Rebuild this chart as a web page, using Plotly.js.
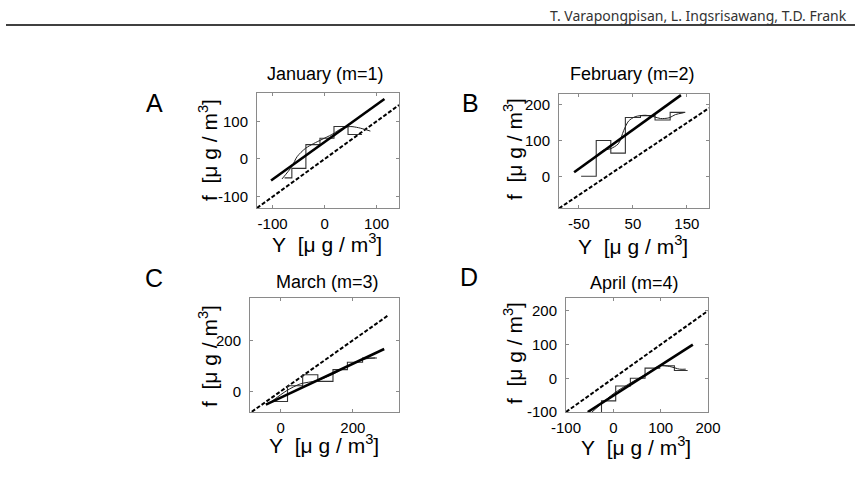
<!DOCTYPE html>
<html>
<head>
<meta charset="utf-8">
<script src="https://cdn.plot.ly/plotly-3.0.1.min.js"></script>
<style>html,body{margin:0;padding:0;background:#fff;}#chart{width:863px;height:485px;}</style>
</head>
<body>
<div id="chart"></div>
<script>
// ---------- Data ----------
const panelTitles = ["January (m=1)", "February (m=2)", "March (m=3)", "April (m=4)"];
const panelLetters = ["A", "B", "C", "D"];
const headerText = "T. Varapongpisan, L. Ingsrisawang, T.D. Frank";

// step (binned) curves: bin edges and bin values
const stepEdgesA = [-77, -63, -36, -9, 18, 45, 72];
const stepValsA  = [-50, -25, 38, 55, 86, 65];
const stepEdgesB = [-46, -18, 9, 36, 64, 91, 119, 147];
const stepValsB  = [2, 101, 66, 165, 170, 158, 179];
const stepEdgesC = [-19, 19, 61, 103, 145, 185, 227, 267];
const stepValsC  = [-40, 22, 65, 39, 85, 114, 131];
const stepEdgesD = [-55, -25, 5, 36, 67, 98, 129, 157];
const stepValsD  = [-120, -67, -23, 0, 30, 37, 23];

// thin smooth curves
const smoothXA = [-82, -63, -53, -37, -21, -5, 14, 33, 49, 65, 88];
const smoothYA = [-53, -20, 6, 28, 41, 52, 65, 81, 86, 83, 74];
const smoothXB = [-20, -5, 8, 23, 33, 42, 54, 73, 89, 101, 117, 129, 144];
const smoothYB = [55, 74, 78, 92, 129, 155, 167, 171, 167, 162, 164, 173, 178];
const smoothXC = [-30, 17, 54, 100, 146, 192, 234, 262];
const smoothYC = [-45, 3, 29, 42, 68, 104, 127, 131];
const smoothXD = [-45, 1, 35, 70, 98, 119, 140, 153];
const smoothYD = [-100, -45, -15, 13, 37, 35, 27, 27];

// thick fitted lines (end points)
const fitXA = [-103, 115]; const fitYA = [-57, 159];
const fitXB = [-59, 139];  const fitYB = [13, 227];
const fitXC = [-41, 287];  const fitYC = [-52, 166];
const fitXD = [-54, 168];  const fitYD = [-100, 100];

// dashed identity lines f = Y (end points)
const diagA = [-130, 143];
const diagB = [-87, 191];
const diagC = [-80, 300];
const diagD = [-100, 200];

// axis ranges and ticks
const xRanges = [[-130, 143], [-87, 191], [-85, 328], [-100, 200]];
const yRanges = [[-130, 175], [-86, 230], [-81, 366], [-100, 238]];
const xTicks = [[-100, 0, 100], [-50, 50, 150], [0, 200], [-100, 0, 100, 200]];
const yTicks = [[-100, 0, 100], [0, 100, 200], [0, 200], [-100, 0, 100, 200]];

// ---------- Layout geometry (pixels) ----------
const W = 863, H = 485;
const boxes = [
  {l: 257, r: 399, t: 93, b: 208},
  {l: 559, r: 709, t: 94, b: 208},
  {l: 250, r: 399, t: 298, b: 412},
  {l: 566, r: 708, t: 298, b: 412}
];
const titlePos = [[325, 74], [632, 74], [327, 282], [634, 283]];
const letterPos = [[154, 103], [471, 103], [154, 278], [469, 277]];
const yTitlePos = [[208, 150], [513, 149], [208, 356], [513, 353]];
const xTitlePos = [[327, 243], [633, 245], [324, 444], [636, 446]];

const FONT = "Liberation Sans, Arial, sans-serif";
const px = x => x / W;
const py = y => 1 - y / H;

function stepXY(edges, vals) {
  return {x: edges.slice(), y: vals.concat([vals[vals.length - 1]])};
}

const steps = [stepXY(stepEdgesA, stepValsA), stepXY(stepEdgesB, stepValsB),
               stepXY(stepEdgesC, stepValsC), stepXY(stepEdgesD, stepValsD)];
const smooths = [[smoothXA, smoothYA], [smoothXB, smoothYB], [smoothXC, smoothYC], [smoothXD, smoothYD]];
const fits = [[fitXA, fitYA], [fitXB, fitYB], [fitXC, fitYC], [fitXD, fitYD]];
const diags = [diagA, diagB, diagC, diagD];

const traces = [];
const layout = {
  width: W, height: H,
  margin: {l: 0, r: 0, t: 0, b: 0},
  paper_bgcolor: "#fff", plot_bgcolor: "#fff",
  showlegend: false,
  font: {family: FONT, color: "#000", size: 15},
  annotations: [],
  shapes: [{type: "line", xref: "paper", yref: "paper", x0: px(6), x1: px(855), y0: py(25), y1: py(25),
            line: {color: "#000", width: 1.3}}]
};

for (let i = 0; i < 4; i++) {
  const n = i + 1;
  const xa = "x" + (n === 1 ? "" : n), ya = "y" + (n === 1 ? "" : n);
  const xk = "xaxis" + (n === 1 ? "" : n), yk = "yaxis" + (n === 1 ? "" : n);
  const b = boxes[i];
  const axCommon = {
    showgrid: false, zeroline: false, showline: true, mirror: "ticks",
    linecolor: "#8a8a8a", linewidth: 1, ticks: "inside", ticklen: 3, tickcolor: "#8a8a8a",
    tickmode: "array", tickfont: {family: FONT, size: 15, color: "#000"},
    fixedrange: true
  };
  layout[xk] = Object.assign({}, axCommon, {
    domain: [px(b.l), px(b.r)], range: xRanges[i], tickvals: xTicks[i],
    ticktext: xTicks[i].map(String), anchor: ya, ticklabelstandoff: 2
  });
  layout[yk] = Object.assign({}, axCommon, {
    domain: [py(b.b), py(b.t)], range: yRanges[i], tickvals: yTicks[i],
    ticktext: yTicks[i].map(String), anchor: xa, ticklabelstandoff: 5
  });

  traces.push({x: diags[i], y: diags[i], xaxis: xa, yaxis: ya, mode: "lines",
               line: {color: "#000", width: 2, dash: "4px,2px"}, hoverinfo: "skip"});
  traces.push({x: steps[i].x, y: steps[i].y, xaxis: xa, yaxis: ya, mode: "lines",
               line: {color: "#333", width: 1.1, shape: "hv"}, hoverinfo: "skip"});
  traces.push({x: smooths[i][0], y: smooths[i][1], xaxis: xa, yaxis: ya, mode: "lines",
               line: {color: "#222", width: 1, shape: "spline", smoothing: 0.8}, hoverinfo: "skip"});
  traces.push({x: fits[i][0], y: fits[i][1], xaxis: xa, yaxis: ya, mode: "lines",
               line: {color: "#000", width: 2.6}, hoverinfo: "skip"});

  layout.annotations.push({text: panelTitles[i], xref: "paper", yref: "paper",
    x: px(titlePos[i][0]), y: py(titlePos[i][1]), xanchor: "center", yanchor: "middle",
    showarrow: false, font: {family: FONT, size: 18, color: "#000"}});
  layout.annotations.push({text: panelLetters[i], xref: "paper", yref: "paper",
    x: px(letterPos[i][0]), y: py(letterPos[i][1]), xanchor: "center", yanchor: "middle",
    showarrow: false, font: {family: FONT, size: 25, color: "#000"}});
  layout.annotations.push({text: "f\u00a0\u00a0[\u03bc\u00a0g\u00a0/\u00a0m<sup>3</sup>]", xref: "paper", yref: "paper",
    x: px(yTitlePos[i][0]), y: py(yTitlePos[i][1]), xanchor: "center", yanchor: "middle",
    textangle: -90, showarrow: false, font: {family: FONT, size: 21, color: "#000"}});
  layout.annotations.push({text: "Y\u00a0\u00a0[\u03bc\u00a0g\u00a0/\u00a0m<sup>3</sup>]", xref: "paper", yref: "paper",
    x: px(xTitlePos[i][0]), y: py(xTitlePos[i][1]), xanchor: "center", yanchor: "middle",
    showarrow: false, font: {family: FONT, size: 21, color: "#000"}});
}

layout.annotations.push({text: headerText, xref: "paper", yref: "paper",
  x: px(849), y: py(16), xanchor: "right", yanchor: "middle", showarrow: false,
  font: {family: "Noto Sans, Open Sans, sans-serif", size: 14, color: "#333"}});

Plotly.newPlot("chart", traces, layout, {displayModeBar: false, staticPlot: true});
</script>
</body>
</html>
